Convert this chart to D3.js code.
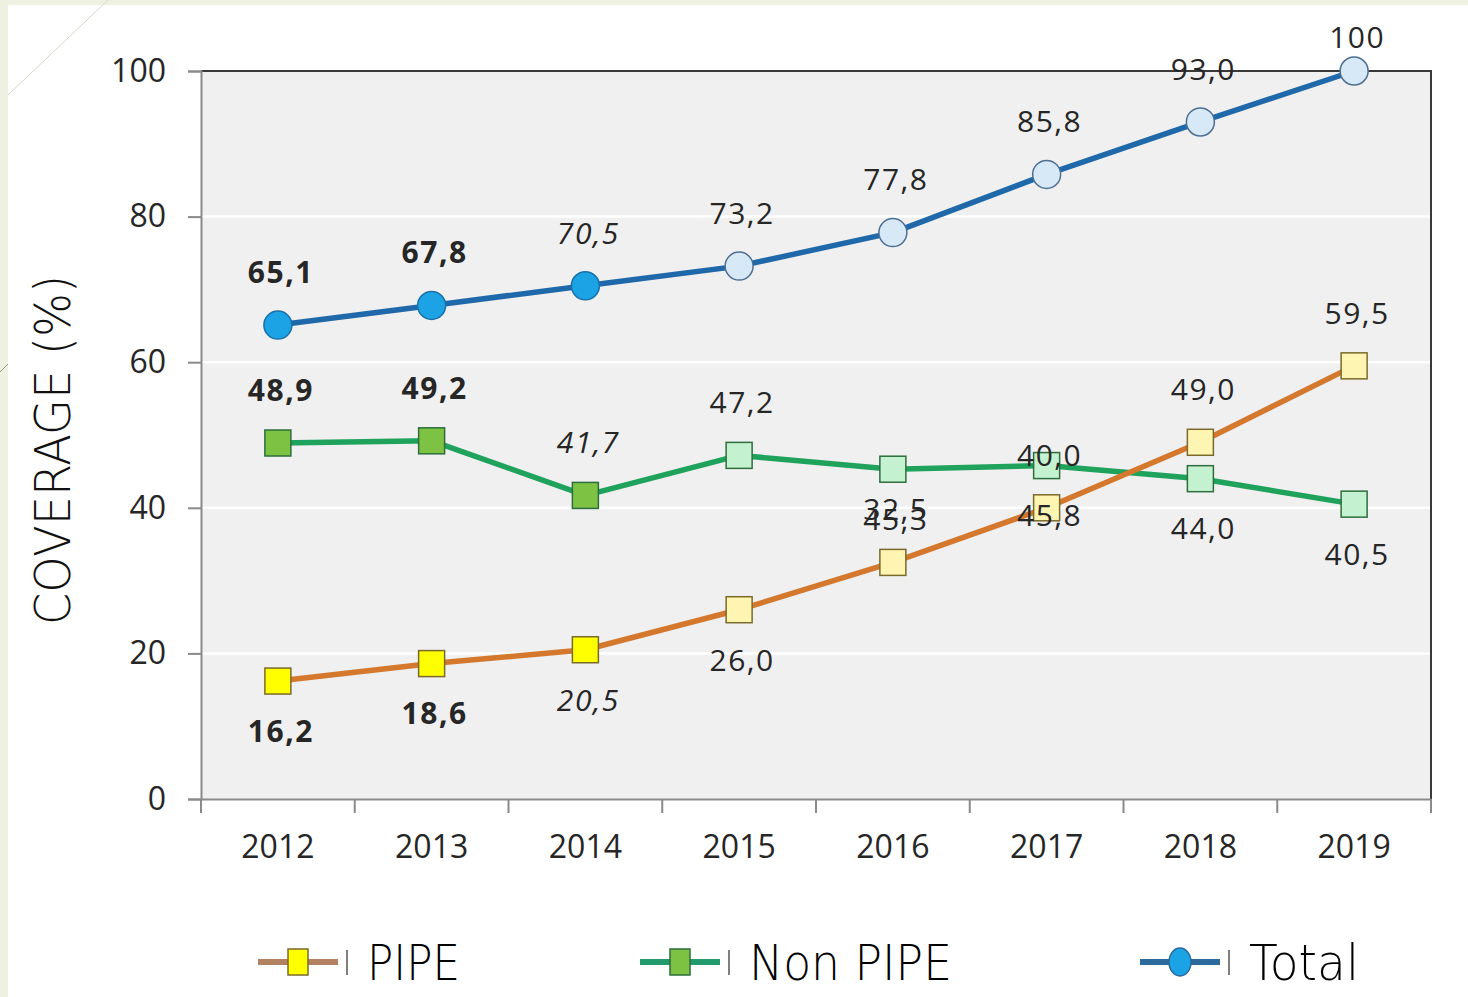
<!DOCTYPE html>
<html>
<head>
<meta charset="utf-8">
<script src="https://cdn.jsdelivr.net/npm/d3@7"></script>
<style>
    body { margin: 0; background: #ffffff; }
    svg { display: block; }
    .tick text { font-family: 'Open Sans', sans-serif; font-size: 32px; fill: #262626; }
    .lbl { font-family: 'Open Sans', sans-serif; font-size: 30px; fill: #262626; letter-spacing: 1.5px; }
</style>
</head>
<body>
<div id="chart"></div>
<script>
// values
const years = ['2012', '2013', '2014', '2015', '2016', '2017', '2018', '2019'];
const total = [65.1, 67.8, 70.5, 73.2, 77.8, 85.8, 93.0, 100];
const nonPipe = [48.9, 49.2, 41.7, 47.2, 45.3, 45.8, 44.0, 40.5];
const pipe = [16.2, 18.6, 20.5, 26.0, 32.5, 40.0, 49.0, 59.5];
const totalLabels = ['65,1', '67,8', '70,5', '73,2', '77,8', '85,8', '93,0', '100'];
const nonPipeLabels = ['48,9', '49,2', '41,7', '47,2', '45,3', '45,8', '44,0', '40,5'];
const pipeLabels = ['16,2', '18,6', '20,5', '26,0', '32,5', '40,0', '49,0', '59,5'];
const yTicks = [0, 20, 40, 60, 80, 100];
// label look by year: bold for 2012-13, italic 2014, plain after
const labelWeight = ['bold', 'bold', 'normal', 'normal', 'normal', 'normal', 'normal', 'normal'];
const labelStyle = ['normal', 'normal', 'italic', 'normal', 'normal', 'normal', 'normal', 'normal'];
const solidMarker = [true, true, true, false, false, false, false, false];

let margin = {top: 71, right: 37, bottom: 198, left: 201};
let W = 1468, H = 997;

let svg = d3.select('#chart').append('svg')
    .attr('width', W)
    .attr('height', H);

// slide background strips
svg.append('rect').attr('x', 0).attr('y', 0).attr('width', W).attr('height', 5).attr('fill', '#eef0e1');
svg.append('rect').attr('x', 0).attr('y', 0).attr('width', 8).attr('height', H).attr('fill', '#eef0e1');
svg.append('line').attr('x1', 108).attr('y1', 0).attr('x2', 8).attr('y2', 95)
    .attr('stroke', '#d5d8c4').attr('stroke-width', 1);
svg.append('line').attr('x1', 8).attr('y1', 364).attr('x2', 0).attr('y2', 372)
    .attr('stroke', '#9a9d80').attr('stroke-width', 1);

let x = d3.scaleBand().domain(years).range([margin.left, W - margin.right]);
let y = d3.scaleLinear().domain([0, 100]).range([H - margin.bottom, margin.top]);
let cx = function(d) { return x(d) + x.bandwidth() / 2; };

let plotW = W - margin.left - margin.right;
let plotH = H - margin.top - margin.bottom;

// plot area
svg.append('rect')
    .attr('x', margin.left).attr('y', margin.top)
    .attr('width', plotW).attr('height', plotH)
    .attr('fill', '#f0f0f0');

// gridlines
svg.append('g').selectAll('line')
    .data(yTicks.filter(function(d) { return d > 0 && d < 100; }))
    .enter().append('line')
    .attr('x1', margin.left).attr('x2', W - margin.right)
    .attr('y1', function(d) { return y(d); })
    .attr('y2', function(d) { return y(d); })
    .attr('stroke', '#ffffff').attr('stroke-width', 2.5);

// top + right border
svg.append('path')
    .attr('d', 'M' + margin.left + ',' + y(100) + 'H' + (W - margin.right) + 'V' + (y(0) + 14))
    .attr('fill', 'none').attr('stroke', '#3a3a3a').attr('stroke-width', 2);

// y axis
let yAxis = svg.append('g')
    .attr('transform', 'translate(' + margin.left + ',0)')
    .call(d3.axisLeft(y).tickValues(yTicks).tickSize(13).tickPadding(22));
yAxis.select('.domain').attr('stroke', '#8a8a8a').attr('stroke-width', 2);
yAxis.selectAll('.tick line').attr('stroke', '#8a8a8a').attr('stroke-width', 2);

// x axis
let xAxis = svg.append('g')
    .attr('transform', 'translate(0,' + y(0) + ')')
    .call(d3.axisBottom(x).tickSize(0).tickPadding(36));
xAxis.select('.domain').attr('stroke', '#8a8a8a').attr('stroke-width', 2);
xAxis.selectAll('.tick text').attr('dy', '0.71em');
svg.append('g').selectAll('line')
    .data(years.map(function(d) { return x(d); }).concat([x.range()[1]]))
    .enter().append('line')
    .attr('x1', function(d) { return d; }).attr('x2', function(d) { return d; })
    .attr('y1', y(0)).attr('y2', y(0) + 14)
    .attr('stroke', '#8a8a8a').attr('stroke-width', 2);

// y axis title
svg.append('text')
    .attr('transform', 'translate(70,450) rotate(-90)')
    .attr('text-anchor', 'middle')
    .attr('textLength', 350)
    .attr('lengthAdjust', 'spacingAndGlyphs')
    .style('font-family', "'DejaVu Sans', sans-serif")
    .style('font-weight', 200)
    .style('font-size', '49px')
    .style('fill', '#111')
    .text('COVERAGE (%)');

let line = d3.line()
    .x(function(d, i) { return cx(years[i]); })
    .y(function(d) { return y(d); });

let series = [
    {name: 'Non PIPE', values: nonPipe, labels: nonPipeLabels, color: '#1fa25c', shape: 'square',
        fill: '#7dc242', pale: '#c4f2d0', stroke: '#2d6e3c', legendLine: '#219a6c',
        side: function(i) { return i < 4 ? -1 : 1; }},
    {name: 'PIPE', values: pipe, labels: pipeLabels, color: '#d4782e', shape: 'square',
        fill: '#ffff00', pale: '#fff5b2', stroke: '#7a6a2a', legendLine: '#b38262',
        side: function(i) { return i < 4 ? 1 : -1; }},
    {name: 'Total', values: total, labels: totalLabels, color: '#1f69aa', shape: 'circle',
        fill: '#1ca3e6', pale: '#d7e8f7', stroke: '#4c6f92', legendLine: '#2c6a9c',
        side: function(i) { return -1; }}
];

series.forEach(function(s) {
    svg.append('path')
        .datum(s.values)
        .attr('fill', 'none')
        .attr('stroke', s.color)
        .attr('stroke-width', 5.5)
        .attr('stroke-linejoin', 'round')
        .attr('d', line);

    let g = svg.append('g');
    if (s.shape === 'circle') {
        g.selectAll('circle').data(s.values).enter().append('circle')
            .attr('cx', function(d, i) { return cx(years[i]); })
            .attr('cy', function(d) { return y(d); })
            .attr('r', 14)
            .attr('fill', function(d, i) { return solidMarker[i] ? s.fill : s.pale; })
            .attr('stroke', function(d, i) { return solidMarker[i] ? '#1a70a8' : s.stroke; })
            .attr('stroke-width', 1.5);
    } else {
        g.selectAll('rect').data(s.values).enter().append('rect')
            .attr('x', function(d, i) { return cx(years[i]) - 13; })
            .attr('y', function(d) { return y(d) - 13; })
            .attr('width', 26).attr('height', 26)
            .attr('fill', function(d, i) { return solidMarker[i] ? s.fill : s.pale; })
            .attr('stroke', s.stroke)
            .attr('stroke-width', 1.5);
    }
});

// data labels on top
series.forEach(function(s) {
    svg.append('g').selectAll('text').data(s.values).enter().append('text')
        .attr('class', 'lbl')
        .attr('x', function(d, i) { return cx(years[i]) + 3; })
        .attr('y', function(d, i) {
            let ly = y(d) + s.side(i) * (s.side(i) < 0 ? 53 : 50);
            return Math.max(ly, margin.top - 34);
        })
        .attr('dy', '0.36em')
        .attr('text-anchor', 'middle')
        .style('font-weight', function(d, i) { return labelWeight[i]; })
        .style('font-style', function(d, i) { return labelStyle[i]; })
        .text(function(d, i) { return s.labels[i]; });
});

// legend
let legendItems = [
    {s: series[1], x: 258, textLen: 93},
    {s: series[0], x: 640, textLen: 203},
    {s: series[2], x: 1140, textLen: 110}
];
let ly = 962;
legendItems.forEach(function(it) {
    let lg = svg.append('g');
    lg.append('line')
        .attr('x1', it.x).attr('x2', it.x + 80)
        .attr('y1', ly).attr('y2', ly)
        .attr('stroke', it.s.legendLine).attr('stroke-width', 6);
    if (it.s.shape === 'circle') {
        lg.append('ellipse')
            .attr('cx', it.x + 40).attr('cy', ly)
            .attr('rx', 11).attr('ry', 14)
            .attr('fill', it.s.fill).attr('stroke', '#2a6a9c').attr('stroke-width', 1.5);
    } else {
        lg.append('rect')
            .attr('x', it.x + 30).attr('y', ly - 13)
            .attr('width', 20).attr('height', 26)
            .attr('fill', it.s.fill).attr('stroke', it.s.stroke).attr('stroke-width', 1.5);
    }
    lg.append('line')
        .attr('x1', it.x + 89).attr('x2', it.x + 89)
        .attr('y1', ly - 12).attr('y2', ly + 13)
        .attr('stroke', '#555').attr('stroke-width', 1.5);
    lg.append('text')
        .attr('x', it.x + 109)
        .attr('y', ly + 18)
        .attr('textLength', it.textLen)
        .attr('lengthAdjust', 'spacingAndGlyphs')
        .style('font-family', "'DejaVu Sans', sans-serif")
        .style('font-weight', 200)
        .style('font-size', '50px')
        .style('fill', '#000')
        .text(it.s.name);
});
</script>
</body>
</html>
